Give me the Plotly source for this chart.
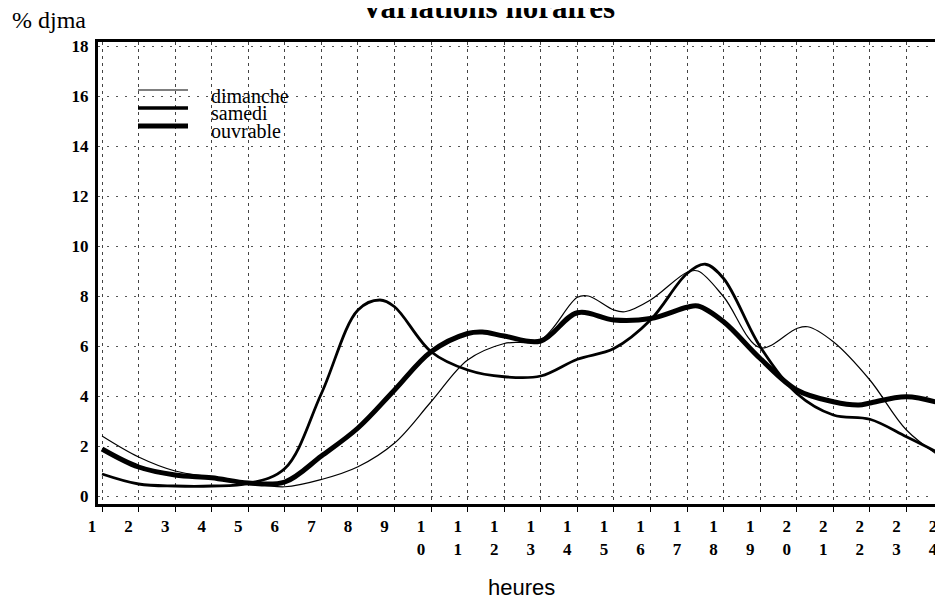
import plotly.graph_objects as go

# ---- data ----
hours = list(range(1, 25))
tick_labels = [str(h) if h < 10 else str(h)[0] + "<br>" + str(h)[1] for h in hours]

dimanche_x = [1, 2, 3, 4, 5, 6, 7, 8, 9, 10, 11, 12, 13, 14, 14.3, 15, 15.3, 16, 17, 17.3, 18, 19, 20, 20.3, 21, 22, 23, 24]
dimanche_y = [2.4, 1.56, 1.0, 0.76, 0.52, 0.37, 0.66, 1.17, 2.12, 3.77, 5.44, 6.1, 6.25, 7.95, 8.0, 7.44, 7.37, 7.84, 8.95, 9.0, 7.97, 5.93, 6.7, 6.77, 6.17, 4.64, 2.64, 1.5]

samedi_x = [1, 2, 3, 4, 5, 6, 7, 8, 8.6, 9, 10, 11, 12, 13, 14, 15, 16, 17, 17.5, 18, 19, 20, 21, 22, 23, 24]
samedi_y = [0.88, 0.48, 0.4, 0.4, 0.5, 1.1, 4.1, 7.44, 7.84, 7.57, 5.77, 5.04, 4.77, 4.8, 5.47, 5.9, 7.04, 8.9, 9.27, 8.7, 5.97, 4.1, 3.24, 3.07, 2.37, 1.64]

ouvrable_x = [1, 2, 3, 4, 5, 6, 7, 8, 9, 10, 11, 11.4, 12, 13, 14, 15, 16, 17, 17.3, 18, 19, 20, 21, 21.7, 22, 23, 24]
ouvrable_y = [1.88, 1.16, 0.84, 0.73, 0.52, 0.56, 1.6, 2.72, 4.24, 5.77, 6.5, 6.56, 6.4, 6.2, 7.33, 7.04, 7.1, 7.55, 7.6, 6.97, 5.5, 4.24, 3.77, 3.64, 3.72, 3.97, 3.68]

y_ticks = list(range(0, 19, 2))

series = [
    ("dimanche", dimanche_x, dimanche_y, 1.2),
    ("samedi", samedi_x, samedi_y, 2.8),
    ("ouvrable", ouvrable_x, ouvrable_y, 5.0),
]

fig = go.Figure()
for name, xs, ys, w in series:
    fig.add_trace(go.Scatter(x=xs, y=ys, mode="lines", name=name,
                             line=dict(color="black", width=w, shape="spline", smoothing=1.0),
                             showlegend=False))

# page body adds an 8px offset; figure coords = screen coords - 8
OFF = 8
W, H = 943 - OFF, 601 - OFF
L, T = 98 - OFF, 42 - OFF
R = 0
B = H - (504 - OFF)
pw, ph = W - L - R, H - T - B

def sx(px):
    return (px - OFF - L) / pw

def sy(py):
    return (H - B - (py - OFF)) / ph

serif = "Liberation Serif"

fig.update_layout(
    width=W, height=H, autosize=False,
    margin=dict(l=L, r=R, t=T, b=B, pad=0),
    paper_bgcolor="white", plot_bgcolor="white",
    showlegend=False,
)

fig.update_xaxes(
    range=[0.89, 24.0], tickmode="array", tickvals=hours, ticktext=tick_labels,
    ticklabelshift=-10, ticklabelstandoff=0,
    tickfont=dict(family=serif, size=17, color="black", weight="bold"),
    ticks="outside", ticklen=5, tickcolor="black", tickwidth=1,
    showgrid=True, gridcolor="#444", gridwidth=1, griddash="3px,4px",
    showline=True, linecolor="black", linewidth=3, mirror=True,
    zeroline=False,
)
fig.update_yaxes(
    range=[-0.32, 18.16], tickmode="array", tickvals=y_ticks,
    ticklabelstandoff=3,
    tickfont=dict(family=serif, size=17, color="black", weight="bold"),
    ticks="", showgrid=True, gridcolor="#555", gridwidth=1, griddash="2px,7px",
    showline=True, linecolor="black", linewidth=3,
    zeroline=False,
)

# legend drawn by hand
leg_items = [("dimanche", 1.2, 90, 96), ("samedi", 3.5, 108, 113), ("ouvrable", 5.0, 126, 131)]
for name, w, ly, ty in leg_items:
    fig.add_shape(type="line", xref="paper", yref="paper",
                  x0=sx(138), x1=sx(188), y0=sy(ly), y1=sy(ly),
                  line=dict(color="black", width=w))
    fig.add_annotation(text=name, xref="paper", yref="paper", x=sx(209), y=sy(ty),
                       xanchor="left", yanchor="middle", showarrow=False,
                       font=dict(family=serif, size=20, color="black"))

fig.add_annotation(text="<b>Variations horaires</b>", xref="paper", yref="paper",
                   x=sx(488), y=sy(27), xanchor="center", yanchor="bottom", showarrow=False,
                   font=dict(family=serif, size=31, color="black"))
fig.add_annotation(text="% djma", xref="paper", yref="paper",
                   x=sx(10), y=sy(20), xanchor="left", yanchor="middle", showarrow=False,
                   font=dict(family=serif, size=24, color="black"))
fig.add_annotation(text="heures", xref="paper", yref="paper",
                   x=sx(521), y=sy(587), xanchor="center", yanchor="middle", showarrow=False,
                   font=dict(family="Liberation Sans", size=22, color="black"))

fig.write_html("out.html")
